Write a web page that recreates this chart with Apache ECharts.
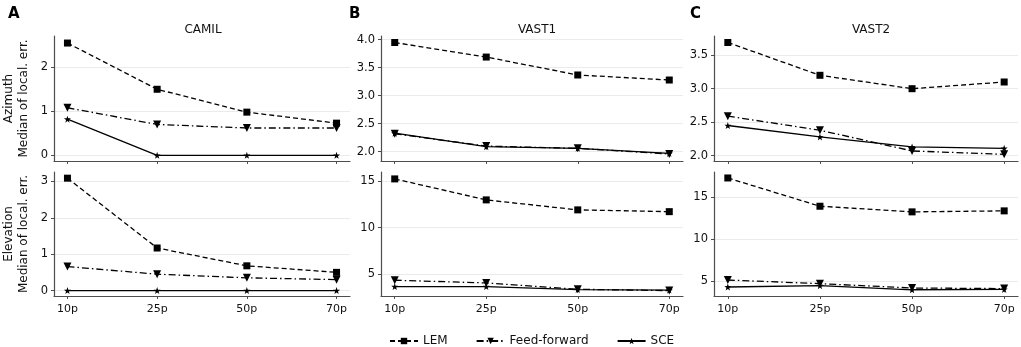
<!DOCTYPE html>
<html>
<head>
<meta charset="utf-8">
<script src="https://cdn.jsdelivr.net/npm/echarts@6/dist/echarts.min.js"></script>
<style>
  html, body { margin: 0; padding: 0; background: #fff; }
  #chart { width: 1021px; height: 347px; }
</style>
</head>
<body>
<div id="chart"></div>
<script>
// categories
const xLabels = ['10p', '25p', '50p', '70p']

// CAMIL
const camilAzLem = [2.55, 1.50, 0.98, 0.73]
const camilAzFf = [1.08, 0.70, 0.62, 0.62]
const camilAzSce = [0.82, 0.0, 0.0, 0.0]
const camilElLem = [3.09, 1.17, 0.68, 0.50]
const camilElFf = [0.66, 0.45, 0.35, 0.30]
const camilElSce = [0.0, 0.0, 0.0, 0.0]
// VAST1
const vast1AzLem = [3.95, 3.69, 3.37, 3.28]
const vast1AzFf = [2.32, 2.10, 2.06, 1.96]
const vast1AzSce = [2.33, 2.09, 2.06, 1.97]
const vast1ElLem = [15.22, 12.97, 11.90, 11.71]
const vast1ElFf = [4.36, 4.07, 3.39, 3.25]
const vast1ElSce = [3.68, 3.68, 3.36, 3.30]
// VAST2
const vast2AzLem = [3.69, 3.20, 3.00, 3.10]
const vast2AzFf = [2.59, 2.38, 2.07, 2.02]
const vast2AzSce = [2.45, 2.28, 2.13, 2.11]
const vast2ElLem = [17.25, 13.89, 13.22, 13.34]
const vast2ElFf = [5.12, 4.69, 4.17, 4.10]
const vast2ElSce = [4.29, 4.45, 3.96, 4.00]

// y tick labels
const camilAzTicks = [0, 1, 2]
const camilElTicks = [0, 1, 2, 3]
const vast1AzTicks = [2.0, 2.5, 3.0, 3.5, 4.0]
const vast1ElTicks = [5, 10, 15]
const vast2AzTicks = [2.0, 2.5, 3.0, 3.5]
const vast2ElTicks = [5, 10, 15]

const font = 'DejaVu Sans'
const axisColor = '#4d4d4d'
const textColor = '#111'
const starPath = 'path://M0,-10 L2.35,-3.24 9.51,-3.09 3.8,1.24 5.88,8.09 0,4 -5.88,8.09 -3.8,1.24 -9.51,-3.09 -2.35,-3.24Z'

const panels = [
  { grid: { left: 46, top: 36, width: 304, height: 125 }, min: -0.13, max: 2.71, ticks: camilAzTicks, dec: 0,
    lem: camilAzLem, ff: camilAzFf, sce: camilAzSce, bottom: false, name: 'Azimuth\nMedian of local. err.' },
  { grid: { left: 381, top: 36, width: 302, height: 125 }, min: 1.834, max: 4.066, ticks: vast1AzTicks, dec: 1,
    lem: vast1AzLem, ff: vast1AzFf, sce: vast1AzSce, bottom: false },
  { grid: { left: 714, top: 36, width: 304, height: 125 }, min: 1.92, max: 3.787, ticks: vast2AzTicks, dec: 1,
    lem: vast2AzLem, ff: vast2AzFf, sce: vast2AzSce, bottom: false },
  { grid: { left: 46, top: 172, width: 304, height: 124 }, min: -0.15, max: 3.26, ticks: camilElTicks, dec: 0,
    lem: camilElLem, ff: camilElFf, sce: camilElSce, bottom: true, name: 'Elevation\nMedian of local. err.' },
  { grid: { left: 381, top: 172, width: 302, height: 124 }, min: 2.67, max: 15.96, ticks: vast1ElTicks, dec: 0,
    lem: vast1ElLem, ff: vast1ElFf, sce: vast1ElSce, bottom: true },
  { grid: { left: 714, top: 172, width: 304, height: 124 }, min: 3.22, max: 17.96, ticks: vast2ElTicks, dec: 0,
    lem: vast2ElLem, ff: vast2ElFf, sce: vast2ElSce, bottom: true }
]

function pts(arr) {
  return arr.map((v, i) => [i, v])
}

const grids = []
const xAxes = []
const yAxes = []
const series = []

panels.forEach((p, k) => {
  grids.push(p.grid)
  xAxes.push({
    type: 'value',
    gridIndex: k,
    min: -0.15,
    max: 3.15,
    splitLine: { show: false },
    axisLine: { show: true, onZero: false, lineStyle: { color: axisColor, width: 1.2 } },
    axisTick: { show: true, length: 3, customValues: [0, 1, 2, 3], lineStyle: { color: axisColor } },
    axisLabel: {
      show: p.bottom,
      customValues: [0, 1, 2, 3],
      formatter: v => xLabels[v],
      color: textColor,
      fontFamily: font,
      fontSize: 11,
      margin: 8
    }
  })
  yAxes.push({
    type: 'value',
    gridIndex: k,
    min: p.min,
    max: p.max,
    name: p.name || '',
    nameLocation: 'middle',
    nameRotate: 90,
    nameGap: 23,
    nameTextStyle: { color: textColor, fontFamily: font, fontSize: 12, lineHeight: 15 },
    axisLine: { show: true, onZero: false, lineStyle: { color: axisColor, width: 1.2 } },
    axisTick: { show: true, length: 3, customValues: p.ticks, lineStyle: { color: axisColor } },
    axisLabel: {
      customValues: p.ticks,
      formatter: v => v.toFixed(p.dec),
      color: textColor,
      fontFamily: font,
      fontSize: 11.5,
      margin: 6
    },
    splitLine: { show: true, customValues: p.ticks, lineStyle: { color: '#ebebeb', width: 1 } }
  })
  series.push({
    name: 'LEM', type: 'line', xAxisIndex: k, yAxisIndex: k,
    data: pts(p.lem),
    symbol: 'rect', symbolSize: 7,
    itemStyle: { color: '#000' },
    lineStyle: { color: '#000', width: 1.3, type: [5, 3] },
    animation: false
  }, {
    name: 'Feed-forward', type: 'line', xAxisIndex: k, yAxisIndex: k,
    data: pts(p.ff),
    symbol: 'triangle', symbolRotate: 180, symbolSize: 8,
    itemStyle: { color: '#000' },
    lineStyle: { color: '#000', width: 1.3, type: [7, 3, 1.5, 3] },
    animation: false
  }, {
    name: 'SCE', type: 'line', xAxisIndex: k, yAxisIndex: k,
    data: pts(p.sce),
    symbol: starPath, symbolSize: 7,
    itemStyle: { color: '#000' },
    lineStyle: { color: '#000', width: 1.3, type: 'solid' },
    animation: false
  })
})

const chart = echarts.init(document.getElementById('chart'), null, { renderer: 'canvas' })
chart.setOption({
  backgroundColor: '#fff',
  animation: false,
  title: [
    { text: 'A', left: 3, top: 2, textStyle: { fontFamily: font, fontSize: 15, fontWeight: 'bold', color: '#000' } },
    { text: 'B', left: 344, top: 2, textStyle: { fontFamily: font, fontSize: 15, fontWeight: 'bold', color: '#000' } },
    { text: 'C', left: 685, top: 2, textStyle: { fontFamily: font, fontSize: 15, fontWeight: 'bold', color: '#000' } },
    { text: 'CAMIL', left: 198, top: 19, textAlign: 'center', textStyle: { fontFamily: font, fontSize: 12, fontWeight: 'normal', color: textColor } },
    { text: 'VAST1', left: 532, top: 19, textAlign: 'center', textStyle: { fontFamily: font, fontSize: 12, fontWeight: 'normal', color: textColor } },
    { text: 'VAST2', left: 866, top: 19, textAlign: 'center', textStyle: { fontFamily: font, fontSize: 12, fontWeight: 'normal', color: textColor } }
  ],
  legend: {
    data: ['LEM', 'Feed-forward', 'SCE'],
    left: 384,
    top: 330,
    itemWidth: 28,
    itemHeight: 8,
    itemGap: 28,
    textStyle: { fontFamily: font, fontSize: 12, color: textColor }
  },
  grid: grids,
  xAxis: xAxes,
  yAxis: yAxes,
  series: series
})
</script>
</body>
</html>
